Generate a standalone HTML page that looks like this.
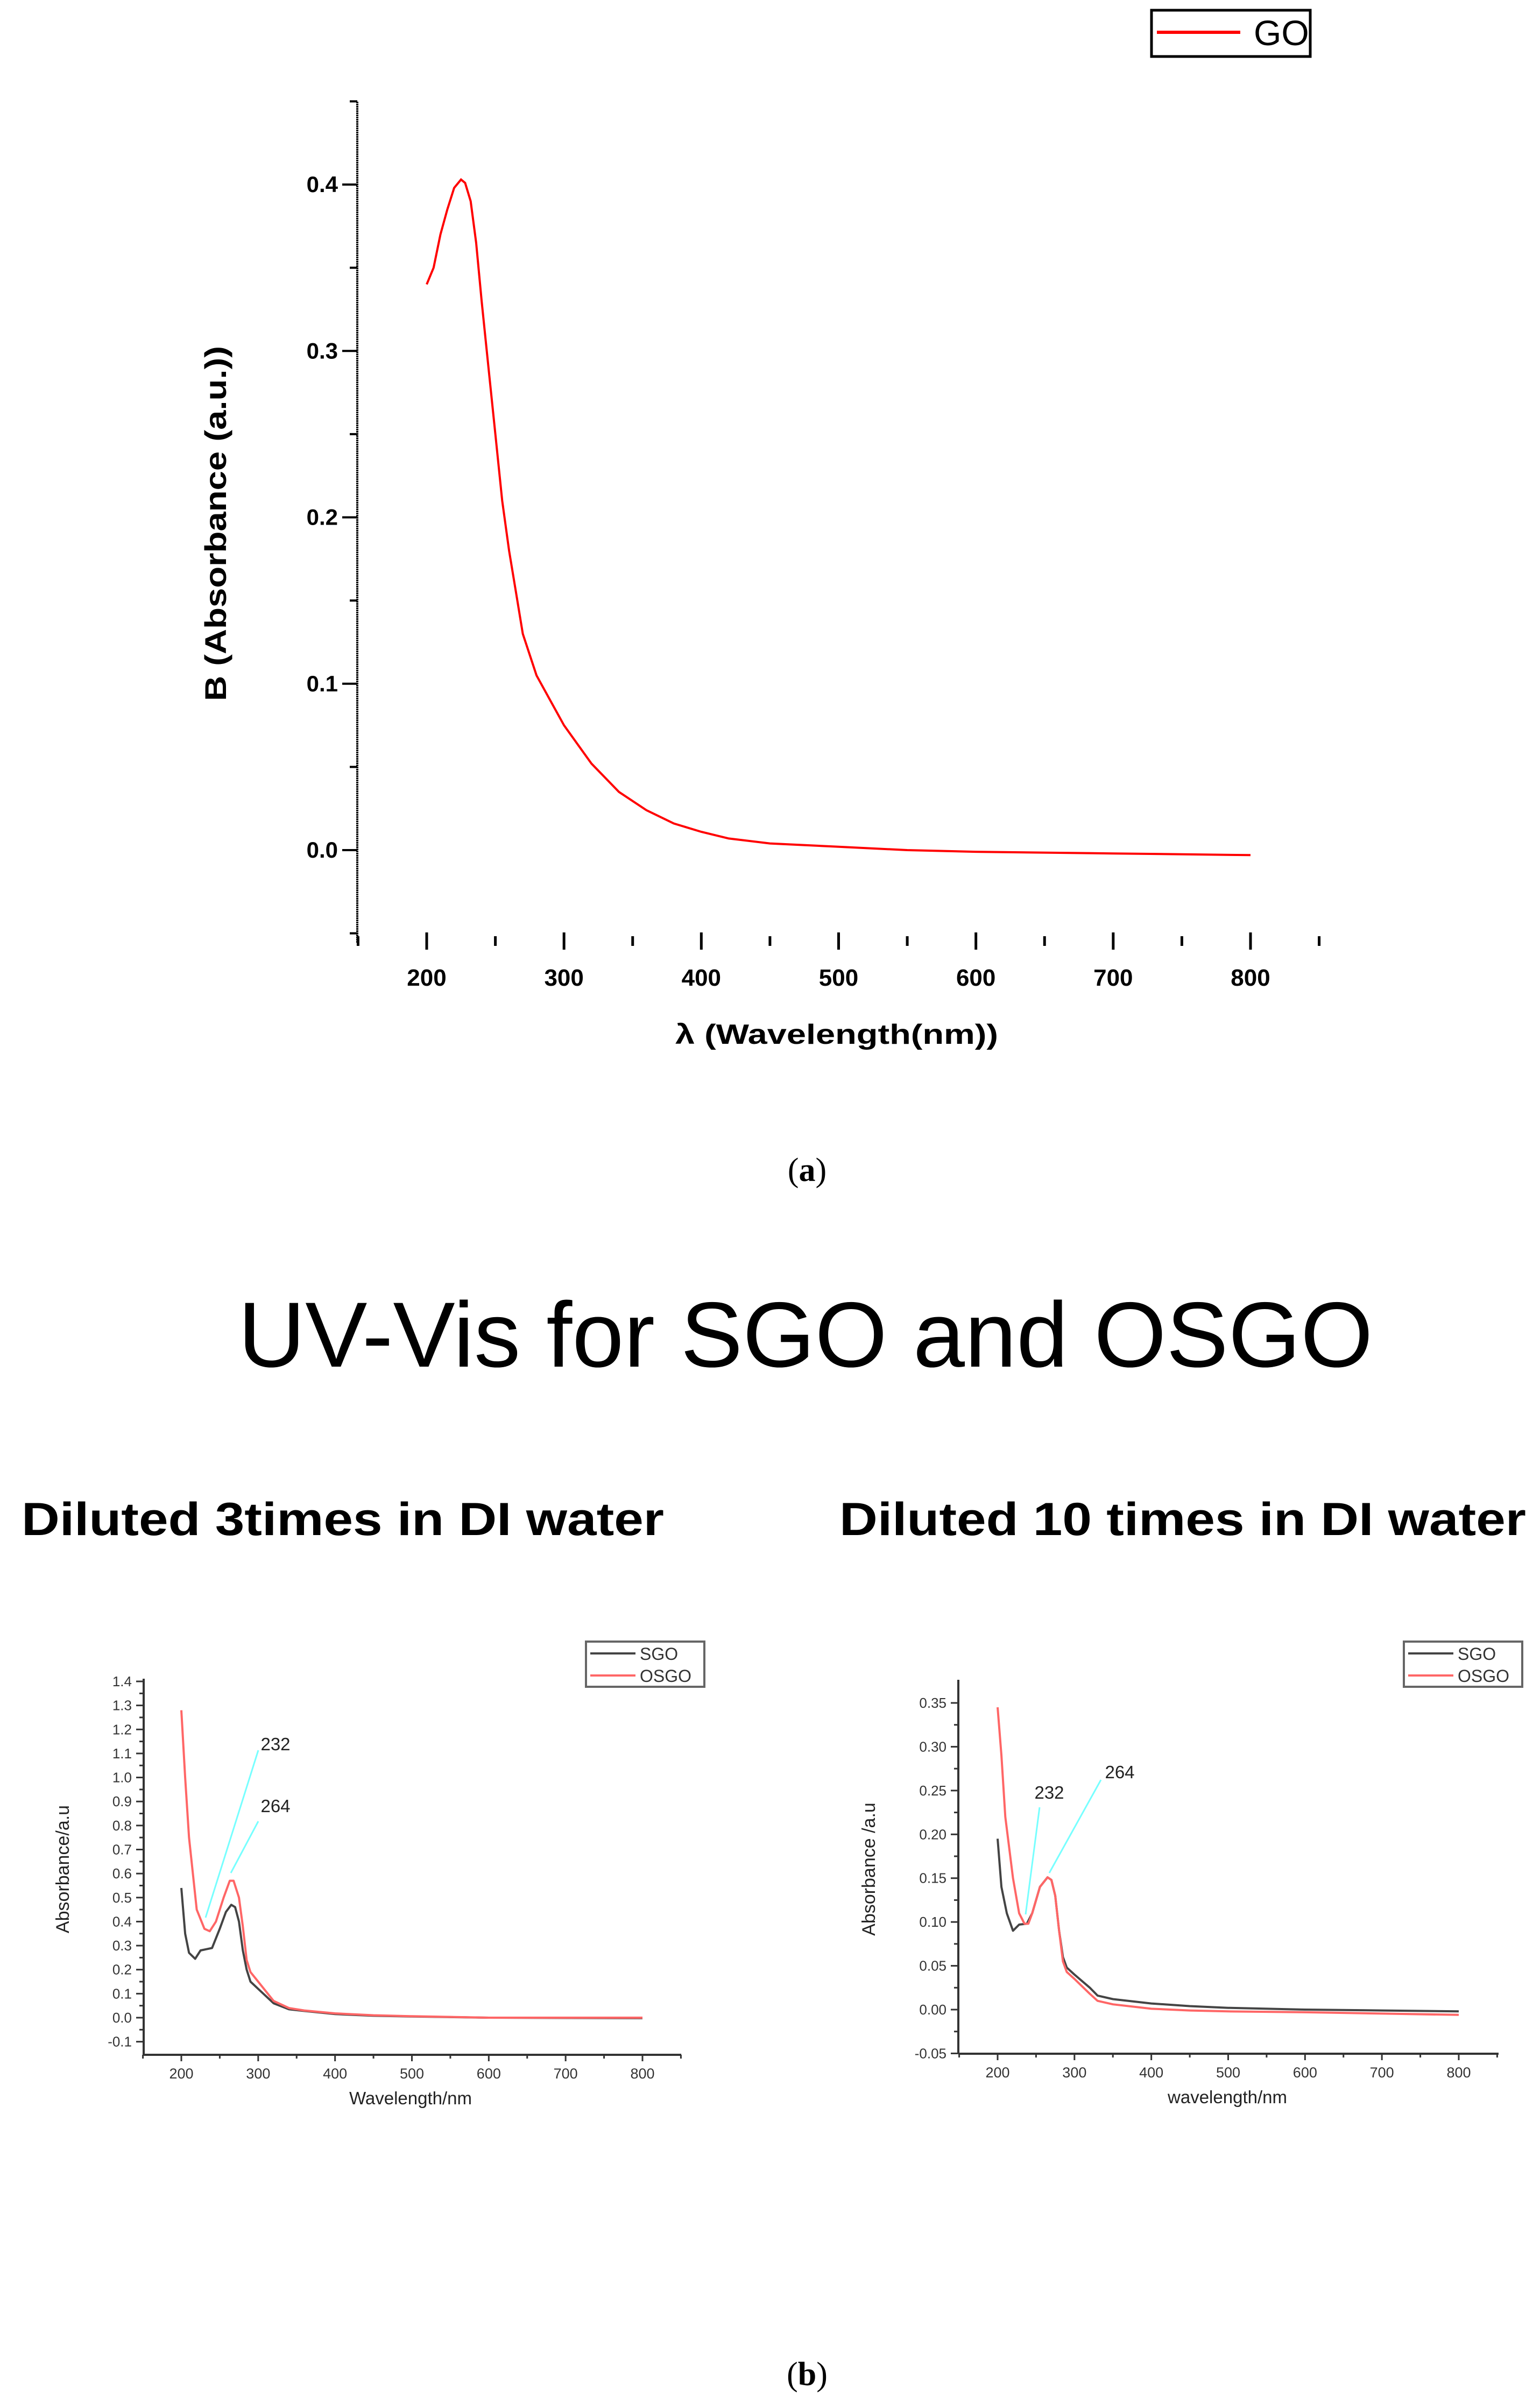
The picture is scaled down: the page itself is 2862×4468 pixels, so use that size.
<!DOCTYPE html>
<html><head><meta charset="utf-8">
<style>
html,body{margin:0;padding:0;background:#fff;}
svg{display:block;}
text{font-family:"Liberation Sans",sans-serif;}
</style></head>
<body>
<svg id="fig" width="2862" height="4468" viewBox="0 0 2862 4468" xmlns="http://www.w3.org/2000/svg">
  <g id="chartA"></g>
  <text x="1500" y="2195" text-anchor="middle" font-size="62" style="font-family:'Liberation Serif',serif">(<tspan font-weight="bold">a</tspan>)</text>
  <text x="1497" y="2540" text-anchor="middle" font-size="172" textLength="2109" lengthAdjust="spacingAndGlyphs">UV-Vis for SGO and OSGO</text>
  <text x="40" y="2853" font-size="86" font-weight="bold" textLength="1194" lengthAdjust="spacingAndGlyphs">Diluted 3times in DI water</text>
  <text x="1560" y="2853" font-size="86" font-weight="bold" textLength="1276" lengthAdjust="spacingAndGlyphs">Diluted 10 times in DI water</text>
  <g id="chartB"></g>
  <g id="chartC"></g>
  <text x="1500" y="4433" text-anchor="middle" font-size="62" style="font-family:'Liberation Serif',serif">(<tspan font-weight="bold">b</tspan>)</text>
</svg>
<script>
// ---- Chart (a) data: GO ----
const goX = [200,205,210,215,220,225,228,232,236,240,245,250,255,260,265,270,280,290,300,320,340,360,380,400,420,450,500,550,600,700,800];
const goY = [0.34,0.35,0.37,0.385,0.398,0.403,0.401,0.39,0.365,0.33,0.29,0.25,0.21,0.18,0.155,0.13,0.105,0.09,0.075,0.052,0.035,0.024,0.016,0.011,0.007,0.004,0.002,0.0,-0.001,-0.002,-0.003];
const aYTicks = [0.0,0.1,0.2,0.3,0.4];
const aYLabels = ["0.0","0.1","0.2","0.3","0.4"];
const aXTicks = [200,300,400,500,600,700,800];
const aXLabels = ["200","300","400","500","600","700","800"];

// ---- Chart (b) 3 times data ----
const bX = [200,205,210,218,225,240,250,258,265,270,275,280,285,290,300,320,340,360,400,450,500,600,800];
const bSGO = [0.54,0.35,0.27,0.245,0.28,0.29,0.37,0.44,0.47,0.46,0.40,0.28,0.20,0.15,0.12,0.06,0.035,0.028,0.015,0.008,0.005,0.0,-0.002];
const bOSGOx = [200,205,210,220,230,237,245,255,263,268,275,280,285,290,300,320,340,360,400,450,500,600,800];
const bOSGO = [1.28,1.0,0.75,0.45,0.37,0.36,0.40,0.50,0.57,0.57,0.50,0.38,0.24,0.19,0.15,0.07,0.04,0.03,0.018,0.01,0.006,0.0,0.0];
const bYTicks = [-0.1,0,0.1,0.2,0.3,0.4,0.5,0.6,0.7,0.8,0.9,1.0,1.1,1.2,1.3,1.4];
const bYLabels = ["-0.1","0.0","0.1","0.2","0.3","0.4","0.5","0.6","0.7","0.8","0.9","1.0","1.1","1.2","1.3","1.4"];

// ---- Chart (c) 10 times data ----
const cX = [200,205,212,220,228,238,245,255,265,270,275,280,285,290,300,320,330,350,400,450,500,600,700,800];
const cSGO = [0.195,0.14,0.11,0.09,0.097,0.098,0.11,0.14,0.151,0.148,0.13,0.09,0.06,0.048,0.04,0.025,0.016,0.012,0.007,0.004,0.002,0.0,-0.001,-0.002];
const cOSGOx = [200,205,210,220,228,235,240,245,255,265,270,275,280,285,290,300,320,330,350,400,450,500,600,800];
const cOSGO = [0.345,0.29,0.22,0.15,0.11,0.098,0.098,0.11,0.14,0.151,0.148,0.13,0.09,0.055,0.043,0.035,0.018,0.01,0.006,0.001,-0.001,-0.002,-0.003,-0.006];
const cYTicks = [-0.05,0,0.05,0.1,0.15,0.2,0.25,0.3,0.35];
const cYLabels = ["-0.05","0.00","0.05","0.10","0.15","0.20","0.25","0.30","0.35"];
const bcXTicks = [200,300,400,500,600,700,800];
const bcXLabels = ["200","300","400","500","600","700","800"];

const NS = "http://www.w3.org/2000/svg";
function mk(parent, tag, attrs, txt){
  const e = document.createElementNS(NS, tag);
  for (const k in attrs) e.setAttribute(k, attrs[k]);
  if (txt !== undefined) e.textContent = txt;
  parent.appendChild(e);
  return e;
}
function lin(d0,d1,p0,p1){ return v => p0 + (v-d0)/(d1-d0)*(p1-p0); }
function pts(xs, ys, sx, sy){ return xs.map((x,i)=>sx(x).toFixed(1)+","+sy(ys[i]).toFixed(1)).join(" "); }

// ===== Chart A =====
(function(){
  const g = document.getElementById('chartA');
  const sx = lin(200,800,793,2324);
  const sy = lin(0,0.4,1580,343);
  let e = mk(g,'line',{x1:664,y1:189,x2:664,y2:1752,stroke:'#000','stroke-width':4,'stroke-dasharray':'3,1'});
  
  
  for (let v=-0.05; v<=0.451; v+=0.05){
    const major = Math.abs(Math.round(v*10)-v*10)<1e-6;
    const t = mk(g,'line',{x1:major?636:650,y1:sy(v),x2:664,y2:sy(v),stroke:'#000','stroke-width':4});
    
    
  }
  aYTicks.forEach((v,i)=>{
    const t = mk(g,'text',{x:628,y:sy(v)+14,'text-anchor':'end','font-size':42,'font-weight':'bold'},aYLabels[i]);
    
    
  });
  for (let v=150; v<=850; v+=50){
    const major = v%100===0;
    const t = mk(g,'line',{x1:sx(v),y1:major?1733:1740,x2:sx(v),y2:major?1765:1758,stroke:'#000','stroke-width':5});
    
    
  }
  aXTicks.forEach((v,i)=>{
    const t = mk(g,'text',{x:sx(v),y:1832,'text-anchor':'middle','font-size':44,'font-weight':'bold'},aXLabels[i]);
    
    
  });
  e = mk(g,'text',{x:1555,y:1940,'text-anchor':'middle','font-size':52,'font-weight':'bold',textLength:600,lengthAdjust:'spacingAndGlyphs'},'λ (Wavelength(nm))');
  
  
  e = mk(g,'text',{x:0,y:0,'text-anchor':'middle','font-size':56,'font-weight':'bold',textLength:660,lengthAdjust:'spacingAndGlyphs',transform:'translate(420,973) rotate(-90)'},'B (Absorbance (a.u.))');
  
  
  e = mk(g,'polyline',{points:pts(goX,goY,sx,sy),fill:'none',stroke:'#f00','stroke-width':4});
  
  
  const lg = mk(g,'g',{});
  
  
  mk(lg,'rect',{x:2140,y:19,width:295,height:86,fill:'#fff',stroke:'#000','stroke-width':5});
  mk(lg,'line',{x1:2150,y1:60,x2:2305,y2:60,stroke:'#f00','stroke-width':6});
  e = mk(lg,'text',{x:2330,y:84,'font-size':66},'GO');
  
  
})();

// ===== Charts B and C =====
function smallChart(gid, o){
  const g = document.getElementById(gid);
  const sx = lin(200,800,o.x200,o.x800);
  const sy = lin(o.yv0,o.yv1,o.yp0,o.yp1);
  let e = mk(g,'line',{x1:o.ax,y1:o.top,x2:o.ax,y2:o.bot,stroke:'#333','stroke-width':4});
  
  
  e = mk(g,'line',{x1:o.ax,y1:o.bot,x2:o.right,y2:o.bot,stroke:'#333','stroke-width':4});
  
  
  o.yTicks.forEach((v,i)=>{
    const t = mk(g,'line',{x1:o.ax-14,y1:sy(v),x2:o.ax,y2:sy(v),stroke:'#333','stroke-width':3});
    
    
    if (i < o.yTicks.length-1){
      const m = (v + o.yTicks[i+1])/2;
      const mt = mk(g,'line',{x1:o.ax-8,y1:sy(m),x2:o.ax,y2:sy(m),stroke:'#333','stroke-width':3});
      
      
    }
    const l = mk(g,'text',{x:o.ax-22,y:sy(v)+9,'text-anchor':'end','font-size':26,fill:'#333'},o.yLabels[i]);
    
    
  });
  for (let v=150; v<=850; v+=50){
    const t = mk(g,'line',{x1:sx(v),y1:o.bot,x2:sx(v),y2:o.bot+(v%100===0?12:7),stroke:'#333','stroke-width':3});
    
    
  }
  bcXTicks.forEach((v,i)=>{
    const t = mk(g,'text',{x:sx(v),y:o.bot+44,'text-anchor':'middle','font-size':27,fill:'#333'},bcXLabels[i]);
    
    
  });
  e = mk(g,'text',{x:o.xtx,y:o.bot+92,'text-anchor':'middle','font-size':33,fill:'#222'},o.xTitle);
  
  
  e = mk(g,'text',{x:0,y:0,'text-anchor':'middle','font-size':34,fill:'#222',transform:'translate('+o.ytx+',3474) rotate(-90)'},o.yTitle);
  
  
  e = mk(g,'polyline',{points:pts(o.sgoX,o.sgo,sx,sy),fill:'none',stroke:'#444','stroke-width':4,'stroke-linejoin':'round'});
  
  
  e = mk(g,'polyline',{points:pts(o.osgoX,o.osgo,sx,sy),fill:'none',stroke:'#f66','stroke-width':4,'stroke-linejoin':'round'});
  
  
  o.ann.forEach(a=>{
    const l = mk(g,'line',{x1:a[0],y1:a[1],x2:a[2],y2:a[3],stroke:'#7ff','stroke-width':3});
    
    
    const t = mk(g,'text',{x:a[4],y:a[5]+11,'text-anchor':'middle','font-size':33,fill:'#222'},a[6]);
    
    
  });
  const lg = mk(g,'g',{});
  
  
  mk(lg,'rect',{x:o.lx,y:3051,width:220,height:84,fill:'#fff',stroke:'#666','stroke-width':4});
  mk(lg,'line',{x1:o.lx+8,y1:3073,x2:o.lx+92,y2:3073,stroke:'#444','stroke-width':4});
  mk(lg,'line',{x1:o.lx+8,y1:3114,x2:o.lx+92,y2:3114,stroke:'#f66','stroke-width':4});
  e = mk(lg,'text',{x:o.lx+100,y:3085,'font-size':32,fill:'#333'},'SGO');
  
  
  e = mk(lg,'text',{x:o.lx+100,y:3126,'font-size':32,fill:'#333'},'OSGO');
  
  
}
smallChart('chartB',{x200:337,x800:1194,yv0:0,yv1:1.4,yp0:3750,yp1:3125,ax:267,top:3120,bot:3819,right:1266,
  yTicks:bYTicks,yLabels:bYLabels,sgoX:bX,sgo:bSGO,osgoX:bOSGOx,osgo:bOSGO,
  xTitle:'Wavelength/nm',xtx:763,yTitle:'Absorbance/a.u',ytx:128,lx:1089,
  ann:[[382,3564,480,3253,512,3242,'232'],[429,3481,480,3385,512,3357,'264']]});
smallChart('chartC',{x200:1854,x800:2711,yv0:0,yv1:0.35,yp0:3735,yp1:3165,ax:1781,top:3122,bot:3817,right:2785,
  yTicks:cYTicks,yLabels:cYLabels,sgoX:cX,sgo:cSGO,osgoX:cOSGOx,osgo:cOSGO,
  xTitle:'wavelength/nm',xtx:2281,yTitle:'Absorbance /a.u',ytx:1626,lx:2609,
  ann:[[1906,3558,1932,3359,1950,3332,'232'],[1950,3481,2046,3308,2081,3294,'264']]});
</script>
</body></html>
